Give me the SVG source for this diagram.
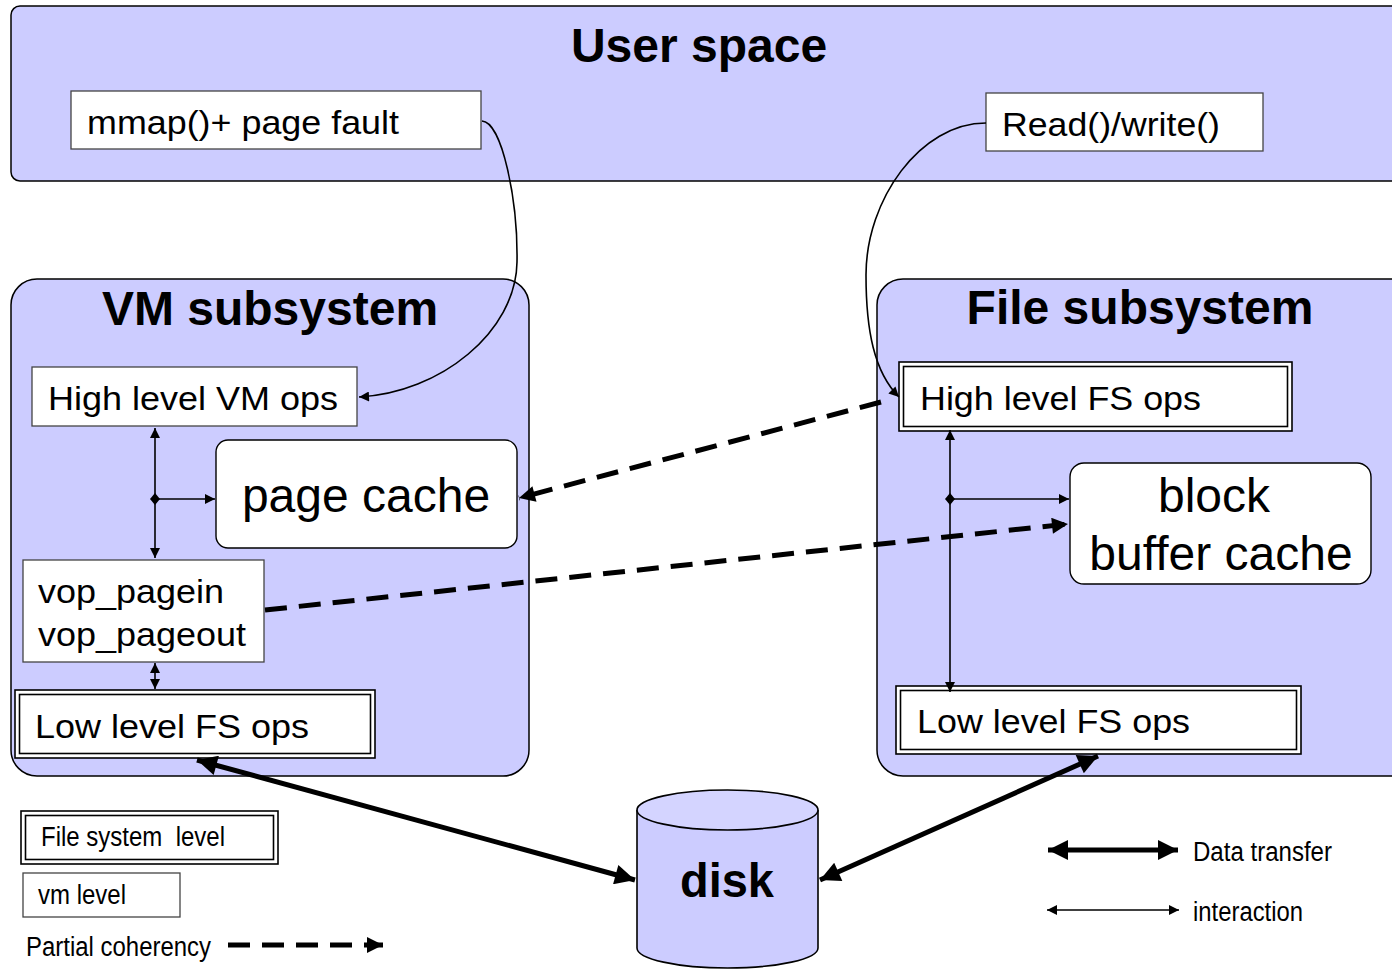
<svg xmlns="http://www.w3.org/2000/svg" width="1392" height="969" viewBox="0 0 1392 969">
  <style>
    .panel { fill: #ccccff; stroke: #000; stroke-width: 1.5; }
    .box { fill: #fff; stroke: #444; stroke-width: 1.3; }
    .dbl { fill: #fff; stroke: #000; stroke-width: 1.6; }
    .cache { fill: #fff; stroke: #000; stroke-width: 1.4; }
    .title { font-family: "Liberation Sans", Arial, sans-serif; font-weight: bold; font-size: 48px; fill: #000; }
    .lbl { font-family: "Liberation Sans", Arial, sans-serif; font-size: 34px; fill: #000; }
    .big { font-family: "Liberation Sans", Arial, sans-serif; font-size: 48px; fill: #000; }
    .leg { font-family: "Liberation Sans", Arial, sans-serif; font-size: 27px; fill: #000; }
    .thin { fill: none; stroke: #000; stroke-width: 1.6; }
    .thick { fill: none; stroke: #000; stroke-width: 5; }
    .dash { fill: none; stroke: #000; stroke-width: 5; stroke-dasharray: 22 12; }
  </style>
  <defs>
    <marker id="ah" viewBox="0 0 10 10" refX="10" refY="5" markerWidth="12" markerHeight="10" markerUnits="userSpaceOnUse" orient="auto-start-reverse">
      <path d="M0,0 L10,5 L0,10 z" fill="#000"/>
    </marker>
    <marker id="ahBig" viewBox="0 0 10 10" refX="10" refY="5" markerWidth="24" markerHeight="20" markerUnits="userSpaceOnUse" orient="auto-start-reverse">
      <path d="M0,0 L10,5 L0,10 z" fill="#000"/>
    </marker>
    <marker id="ahDash" viewBox="0 0 10 10" refX="10" refY="5" markerWidth="20" markerHeight="16" markerUnits="userSpaceOnUse" orient="auto-start-reverse">
      <path d="M0,0 L10,5 L0,10 z" fill="#000"/>
    </marker>
  </defs>

  <!-- User space -->
  <g id="user-space">
    <rect class="panel" x="11" y="6" width="1400" height="175" rx="9"/>
    <text class="title" x="699" y="62" text-anchor="middle">User space</text>
  </g>
  <g id="mmap">
    <rect class="box" x="71" y="91" width="410" height="58"/>
    <text class="lbl" x="87" y="134" textLength="312" lengthAdjust="spacingAndGlyphs">mmap()+ page fault</text>
  </g>
  <g id="readwrite">
    <rect class="box" x="986" y="93" width="277" height="58"/>
    <text class="lbl" x="1002" y="136" textLength="218" lengthAdjust="spacingAndGlyphs">Read()/write()</text>
  </g>

  <!-- VM subsystem -->
  <g id="vm-subsystem">
    <rect class="panel" x="11" y="279" width="518" height="497" rx="26"/>
    <text class="title" x="270" y="325" text-anchor="middle">VM subsystem</text>
  </g>
  <g id="hl-vm-ops">
    <rect class="box" x="32" y="367" width="325" height="59"/>
    <text class="lbl" x="48" y="410" textLength="290" lengthAdjust="spacingAndGlyphs">High level VM ops</text>
  </g>
  <g id="page-cache">
    <rect class="cache" x="216" y="440" width="301" height="108" rx="12"/>
    <text class="big" x="366" y="512" text-anchor="middle">page cache</text>
  </g>
  <g id="vop">
    <rect class="box" x="23" y="560" width="241" height="102"/>
    <text class="lbl" x="38" y="603" textLength="186" lengthAdjust="spacingAndGlyphs">vop_pagein</text>
    <text class="lbl" x="38" y="646" textLength="208" lengthAdjust="spacingAndGlyphs">vop_pageout</text>
  </g>
  <g id="ll-vm-fs-ops">
    <rect class="dbl" x="15" y="690" width="360" height="68"/>
    <rect class="dbl" x="19.5" y="694.5" width="351" height="59"/>
    <text class="lbl" x="35" y="738" textLength="274" lengthAdjust="spacingAndGlyphs">Low level FS ops</text>
  </g>

  <!-- File subsystem -->
  <g id="file-subsystem">
    <rect class="panel" x="877" y="279" width="540" height="497" rx="26"/>
    <text class="title" x="1140" y="324" text-anchor="middle">File subsystem</text>
  </g>
  <g id="hl-fs-ops">
    <rect class="dbl" x="899" y="362" width="393" height="69"/>
    <rect class="dbl" x="903.5" y="366.5" width="384" height="60"/>
    <text class="lbl" x="920" y="410" textLength="281" lengthAdjust="spacingAndGlyphs">High level FS ops</text>
  </g>
  <g id="block-cache">
    <rect class="cache" x="1070" y="463" width="301" height="121" rx="14"/>
    <text class="big" x="1214" y="512" text-anchor="middle">block</text>
    <text class="big" x="1221" y="570" text-anchor="middle">buffer cache</text>
  </g>
  <g id="ll-fs-ops">
    <rect class="dbl" x="896" y="686" width="405" height="68"/>
    <rect class="dbl" x="900.5" y="690.5" width="396" height="59"/>
    <text class="lbl" x="917" y="733" textLength="273" lengthAdjust="spacingAndGlyphs">Low level FS ops</text>
  </g>

  <!-- Disk -->
  <g id="disk">
    <path d="M637,810 L637,948 A90.5,20 0 0 0 818,948 L818,810" fill="#ccccff" stroke="#000" stroke-width="1.6"/>
    <ellipse cx="727.5" cy="810" rx="90.5" ry="20" fill="#d4d4ff" stroke="#000" stroke-width="1.6"/>
    <text class="title" x="727" y="897" text-anchor="middle" textLength="94" lengthAdjust="spacingAndGlyphs">disk</text>
  </g>

  <!-- Legend -->
  <g id="legend">
    <rect class="dbl" x="21" y="811" width="257" height="53"/>
    <rect class="dbl" x="25.5" y="815.5" width="248" height="44"/>
    <text class="leg" x="41" y="846" textLength="184" lengthAdjust="spacingAndGlyphs" xml:space="preserve">File system  level</text>
    <rect class="box" x="23" y="873" width="157" height="44"/>
    <text class="leg" x="38" y="904" textLength="88" lengthAdjust="spacingAndGlyphs">vm level</text>
    <text class="leg" x="26" y="956" textLength="185" lengthAdjust="spacingAndGlyphs">Partial coherency</text>
    <line class="dash" x1="228" y1="945" x2="383" y2="945" stroke-dasharray="20 12" marker-end="url(#ahDash)"/>
    <line class="thick" x1="1048" y1="850" x2="1178" y2="850" marker-start="url(#ahBig)" marker-end="url(#ahBig)"/>
    <text class="leg" x="1193" y="861" textLength="139" lengthAdjust="spacingAndGlyphs">Data transfer</text>
    <line class="thin" x1="1047" y1="910" x2="1179" y2="910" marker-start="url(#ah)" marker-end="url(#ah)"/>
    <text class="leg" x="1193" y="921" textLength="110" lengthAdjust="spacingAndGlyphs">interaction</text>
  </g>

  <!-- Connectors -->
  <g id="connectors">
    <!-- system call paths -->
    <path class="thin" d="M482,121 C502,122 518,200 517,262 C516,332 440,393 359,397" marker-end="url(#ah)"/>
    <path class="thin" d="M986,123 C920,123 866,200 866,275 C866,330 874,372 899,397" marker-end="url(#ah)"/>
    <!-- VM internal interactions -->
    <line class="thin" x1="155" y1="428" x2="155" y2="558" marker-start="url(#ah)" marker-end="url(#ah)"/>
    <line class="thin" x1="155" y1="499" x2="215" y2="499" marker-end="url(#ah)"/>
    <path d="M155,493 L160,499 L155,505 L150,499 z" fill="#000"/>
    <line class="thin" x1="155" y1="663" x2="155" y2="689" marker-start="url(#ah)" marker-end="url(#ah)"/>
    <!-- FS internal interactions -->
    <line class="thin" x1="950" y1="430" x2="950" y2="692" marker-start="url(#ah)" marker-end="url(#ah)"/>
    <line class="thin" x1="950" y1="499" x2="1069" y2="499" marker-end="url(#ah)"/>
    <path d="M950,493 L955,499 L950,505 L945,499 z" fill="#000"/>
    <!-- partial coherency -->
    <line class="dash" x1="881" y1="402" x2="519" y2="498" marker-end="url(#ahDash)"/>
    <line class="dash" x1="265" y1="610" x2="1068" y2="524" marker-end="url(#ahDash)"/>
    <!-- data transfer -->
    <line class="thick" x1="197" y1="760" x2="635" y2="880" marker-start="url(#ahBig)" marker-end="url(#ahBig)"/>
    <line class="thick" x1="1098" y1="756" x2="820" y2="880" marker-start="url(#ahBig)" marker-end="url(#ahBig)"/>
  </g>
</svg>
